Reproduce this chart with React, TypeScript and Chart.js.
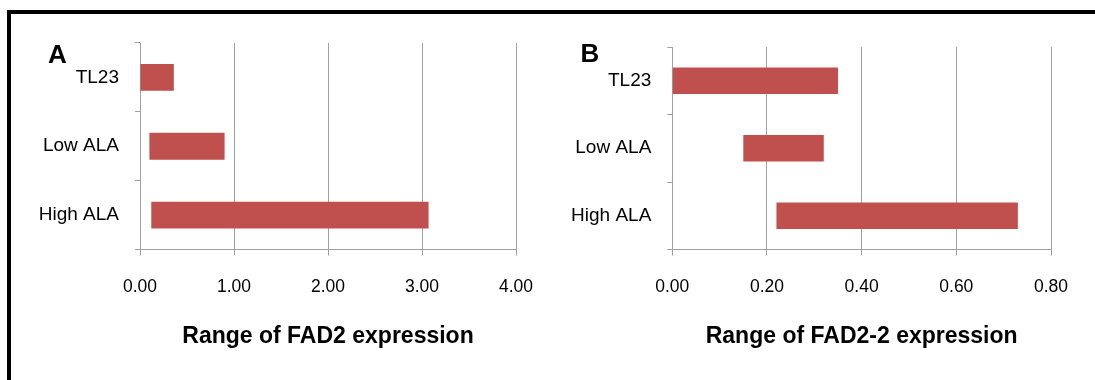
import React, { useEffect, useRef } from 'react';
import { Chart, registerables } from 'chart.js';

Chart.register(...registerables);

const FONT = 'Arial, "Liberation Sans", sans-serif';
Chart.defaults.font.family = FONT;

// Data
const categories = ['TL23', 'Low ALA', 'High ALA'];
const fad2Start = [0, 0.10, 0.12];
const fad2End = [0.36, 0.90, 3.07];
const fad22Start = [0, 0.15, 0.22];
const fad22End = [0.35, 0.32, 0.73];
const fad2TickValues = [0, 1, 2, 3, 4];
const fad22TickValues = [0, 0.2, 0.4, 0.6, 0.8];
const fad2Title = 'Range of FAD2 expression';
const fad22Title = 'Range of FAD2-2 expression';

const BAR = '#C0504D';
const GRAY = '#a0a0a0';

type PanelProps = {
  left: number;
  width: number;
  height: number;
  yAxisWidth: number;
  padTop: number;
  padRight: number;
  xAxisHeight: number;
  starts: number[];
  ends: number[];
  tickValues: number[];
  title: string;
};

function Panel(p: PanelProps) {
  const ref = useRef<HTMLCanvasElement | null>(null);
  useEffect(() => {
    if (!ref.current) return;
    const tv = p.tickValues;
    const chart = new Chart(ref.current, {
      type: 'bar',
      data: {
        labels: categories,
        datasets: [
          {
            data: p.starts.map((s, i) => [s, p.ends[i]]) as any,
            backgroundColor: BAR,
            borderWidth: 0,
            categoryPercentage: 1,
            barPercentage: 0.39,
          },
        ],
      },
      options: {
        indexAxis: 'y',
        animation: false,
        responsive: false,
        devicePixelRatio: 1,
        layout: { padding: { top: p.padTop, right: p.padRight, left: 0, bottom: 0 } },
        plugins: { legend: { display: false }, tooltip: { enabled: false } },
        scales: {
          x: {
            type: 'linear',
            min: tv[0],
            max: tv[tv.length - 1],
            afterBuildTicks: (s: any) => {
              s.ticks = tv.map((v) => ({ value: v }));
            },
            ticks: {
              color: '#000',
              font: { size: 17.5, family: FONT },
              padding: 21,
              callback: (v: any) => Number(v).toFixed(2),
              maxRotation: 0,
              autoSkip: false,
            },
            grid: { color: GRAY, lineWidth: 1, drawTicks: true, tickLength: 6 },
            border: { display: true, color: GRAY, width: 1 },
            title: {
              display: true,
              text: p.title,
              color: '#000',
              font: { size: 23, weight: 'bold', family: FONT },
              padding: { top: 0, bottom: 30 },
            },
            afterFit: (s: any) => {
              s.height = p.xAxisHeight;
              s.paddingLeft = 0;
              s.paddingRight = 0;
            },
          },
          y: {
            type: 'category',
            offset: true,
            ticks: {
              color: '#000',
              font: { size: 19, family: FONT },
              padding: 16,
            },
            grid: {
              display: true,
              offset: true,
              drawOnChartArea: false,
              drawTicks: true,
              tickLength: 5,
              color: GRAY,
            },
            border: { display: true, color: GRAY, width: 1 },
            afterFit: (s: any) => {
              s.width = p.yAxisWidth;
              s.paddingTop = 0;
              s.paddingBottom = 0;
            },
          },
        },
      } as any,
    });
    return () => chart.destroy();
  }, []);
  return (
    <canvas
      ref={ref}
      width={p.width}
      height={p.height}
      style={{ position: 'absolute', left: p.left, top: 0, width: p.width, height: p.height }}
    />
  );
}

export default function App() {
  return (
    <div
      style={{
        position: 'absolute',
        left: 0,
        top: 0,
        width: 1095,
        height: 380,
        background: '#fff',
        overflow: 'hidden',
        fontFamily: FONT,
      }}
    >
      <Panel
        left={0}
        width={545}
        height={380}
        yAxisWidth={140}
        padTop={43}
        padRight={29}
        xAxisHeight={130.5}
        starts={fad2Start}
        ends={fad2End}
        tickValues={fad2TickValues}
        title={fad2Title}
      />
      <Panel
        left={545}
        width={550}
        height={380}
        yAxisWidth={127.3}
        padTop={47}
        padRight={44}
        xAxisHeight={130.5}
        starts={fad22Start}
        ends={fad22End}
        tickValues={fad22TickValues}
        title={fad22Title}
      />
      <div
        style={{
          position: 'absolute',
          left: 48,
          top: 40.6,
          fontSize: 26,
          lineHeight: 1,
          fontWeight: 'bold',
          color: '#000',
        }}
      >
        A
      </div>
      <div
        style={{
          position: 'absolute',
          left: 580.5,
          top: 40.1,
          fontSize: 26,
          lineHeight: 1,
          fontWeight: 'bold',
          color: '#000',
        }}
      >
        B
      </div>
      <div style={{ position: 'absolute', left: 7, top: 10, width: 1088, height: 4, background: '#000' }} />
      <div style={{ position: 'absolute', left: 7, top: 10, width: 4, height: 370, background: '#000' }} />
    </div>
  );
}
